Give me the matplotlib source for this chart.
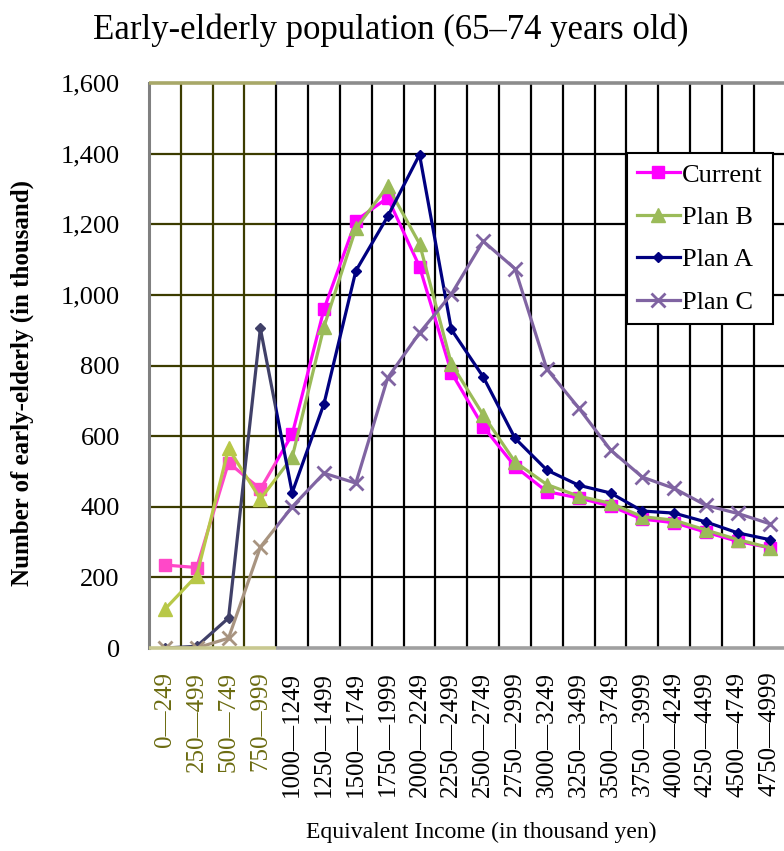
import numpy as np
import matplotlib
matplotlib.use('Agg')
import matplotlib.pyplot as plt
from matplotlib.patches import Rectangle
from matplotlib.ticker import FuncFormatter

plt.rcParams['font.family'] = ['Liberation Serif', 'DejaVu Serif']

# income brackets (thousand yen)
lower = [0, 250, 500, 750, 1000, 1250, 1500, 1750, 2000, 2250,
         2500, 2750, 3000, 3250, 3500, 3750, 4000, 4250, 4500, 4750]
brackets = ['%d\u2014%d' % (lo, lo + 249) for lo in lower]

current = [235, 228, 525, 450, 605, 960, 1210, 1275, 1080, 780,
           627, 514, 443, 425, 402, 365, 355, 328, 302, 284]
plan_b = [110, 205, 565, 422, 540, 910, 1188, 1308, 1145, 805,
          660, 527, 463, 430, 410, 372, 362, 334, 307, 284]
plan_a = [0, 5, 85, 905, 440, 692, 1068, 1222, 1397, 902,
          768, 594, 504, 461, 439, 388, 382, 357, 326, 307]
plan_c = [0, 0, 28, 286, 400, 495, 467, 765, 892, 1002,
          1152, 1074, 790, 680, 561, 484, 452, 404, 381, 352]

series = [
    ('Current', current, '#ff00ff', '#ff48c8', 's', 8, 0),
    ('Plan B', plan_b, '#9bbb59', '#b8c848', '^', 10, 0),
    ('Plan A', plan_a, '#000080', '#404068', 'D', 5, 0),
    ('Plan C', plan_c, '#8064a2', '#a89480', 'x', 10, 2),
]

olive = '#3c3c00'
olive_txt = '#6b6b10'
split = 3.5  # highlighted part ends after 750-999

fig = plt.figure(figsize=(7.84, 8.51), dpi=100)
ax = fig.add_axes([0.190, 0.2385, 0.812, 0.664])
x = np.arange(len(brackets))
ax.set_xlim(-0.5, len(brackets) - 0.5)
ax.set_ylim(0, 1600)

# grid
yt = np.arange(200, 1600, 200)
ax.hlines(yt, -0.5, split, color=olive, lw=1.6, zorder=1)
ax.hlines(yt, split, len(brackets) - 0.5, color='black', lw=1.6, zorder=1)
for b in np.arange(0.5, len(brackets) - 0.5, 1.0):
    ax.axvline(b, color=olive if b < split else 'black', lw=1.6, zorder=1)

left_box = Rectangle((-0.5, 0), split + 0.5, 1600, transform=ax.transData)
right_box = Rectangle((split, 0), len(brackets), 1600, transform=ax.transData)

handles = []
for name, vals, col, col_hl, mk, ms, mew in series:
    kw = dict(lw=2.3, marker=mk, markersize=ms, zorder=3)
    if mew:
        kw['markeredgewidth'] = mew
    ln, = ax.plot(x, vals, color=col, label=name, **kw)
    ln.set_clip_path(right_box)
    ln2, = ax.plot(x, vals, color=col_hl, **kw)
    ln2.set_clip_path(left_box)
    handles.append(ln)

# spines
for s in ['top', 'right', 'bottom']:
    ax.spines[s].set_visible(False)
ax.spines['left'].set_color('#808080')
ax.spines['left'].set_linewidth(2.2)
ax.hlines(1600, -0.5, split, color='#a8a868', lw=2.6, zorder=4, clip_on=False)
ax.hlines(1600, split, len(brackets) - 0.5, color='#8c8c8c', lw=2.6, zorder=4, clip_on=False)
ax.hlines(0, -0.5, split, color='#c8c890', lw=2.6, zorder=4, clip_on=False)
ax.hlines(0, split, len(brackets) - 0.5, color='#a0a0a0', lw=2.6, zorder=4, clip_on=False)

ax.set_yticks(np.arange(0, 1601, 200))
ax.yaxis.set_major_formatter(FuncFormatter(lambda v, p: '{:,.0f}'.format(v)))
ax.tick_params(axis='y', length=0, pad=21, labelsize=19)
ax.set_xticks(x)
ax.set_xticklabels(brackets, rotation=90, va='top', ha='center')
ax.tick_params(axis='x', length=0, pad=17, labelsize=18)
for i, lab in enumerate(ax.get_xticklabels()):
    if i < 4:
        lab.set_color(olive_txt)

leg = ax.legend(handles=handles, loc='upper right', bbox_to_anchor=(0.98, 0.876),
                fontsize=19, frameon=True, fancybox=False, edgecolor='black',
                framealpha=1, borderpad=0.38, handlelength=1.6, handletextpad=0.1,
                labelspacing=0.72, borderaxespad=0)
leg.get_frame().set_linewidth(1.5)
leg.set_zorder(5)

fig.text(0.499, 0.965, 'Early-elderly population (65\u201374 years old)',
         ha='center', va='center', fontsize=25)
fig.text(0.028, 0.55, 'Number of early-elderly (in thousand)', rotation=90,
         ha='center', va='center', fontsize=18, fontweight='bold')
fig.text(0.614, 0.022, 'Equivalent Income (in thousand yen)',
         ha='center', va='center', fontsize=17)

plt.savefig('out.png', dpi=100)
